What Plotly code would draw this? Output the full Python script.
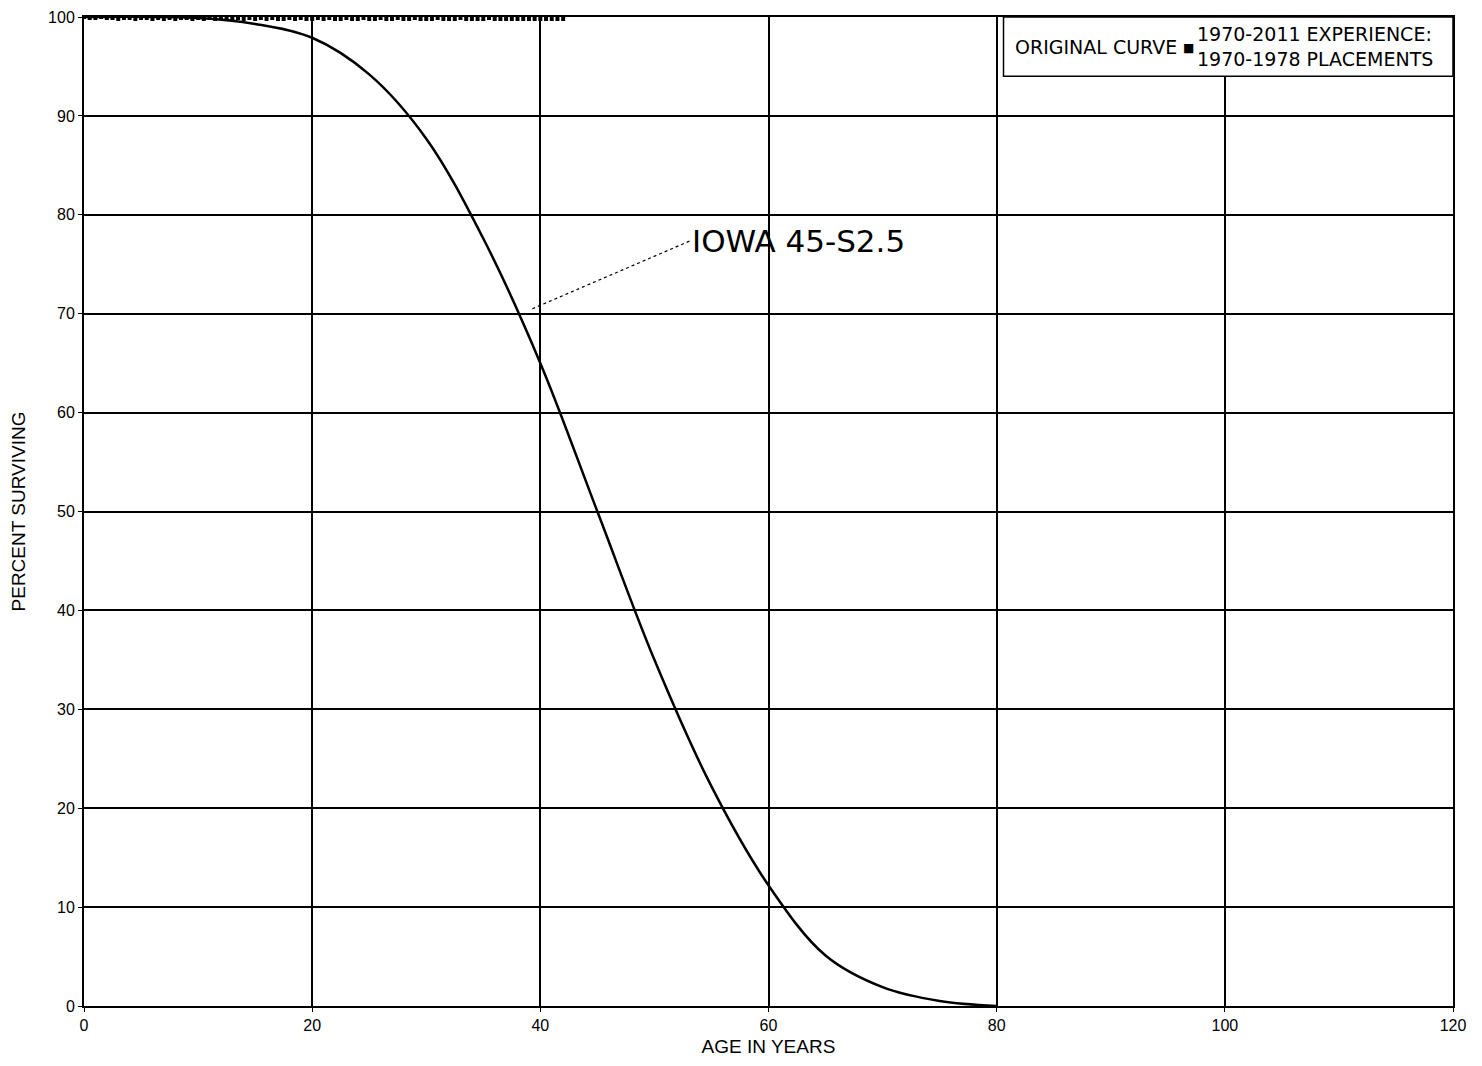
import plotly.graph_objects as go

# Iowa 45-S2.5 original curve (age in years, percent surviving)
curve_age = [0, 10, 15, 20, 25, 30, 35, 40, 45, 50, 55, 60, 65, 70, 75, 80]
curve_pct = [100, 99.9, 99.3, 97.9, 94.2, 87.7, 77.6, 65.0, 50.0, 35.0, 22.2, 12.2, 5.1, 1.9, 0.5, 0.0]

# 1970-2011 experience: 1970-1978 placements (observed)
exp_age = [i * 0.5 for i in range(0, 85)]
exp_pct = [100.0, 99.9, 99.9, 100.0, 99.9, 99.9, 99.8, 99.9, 99.9, 99.8, 99.9, 99.9, 99.8, 99.9,
           99.8, 99.9, 99.8, 99.9, 99.9, 99.8, 99.9, 99.8, 99.9, 99.8, 99.9, 99.9, 99.8, 99.9,
           99.8, 99.9, 99.8, 99.9, 99.8, 99.9, 99.8, 99.8, 99.9, 99.8, 99.9, 99.8, 99.8, 99.9,
           99.8, 99.9, 99.8, 99.8, 99.9, 99.8, 99.8, 99.9, 99.8, 99.8, 99.9, 99.8, 99.8, 99.9,
           99.8, 99.8, 99.9, 99.8, 99.8, 99.8, 99.9, 99.8, 99.8, 99.8, 99.9, 99.8, 99.8, 99.8,
           99.8, 99.9, 99.8, 99.8, 99.8, 99.8, 99.8, 99.8, 99.8, 99.8, 99.8, 99.8, 99.8, 99.8, 99.8]

x_ticks = [0, 20, 40, 60, 80, 100, 120]
y_ticks = [0, 10, 20, 30, 40, 50, 60, 70, 80, 90, 100]

fig = go.Figure()
fig.add_trace(go.Scatter(x=curve_age, y=curve_pct, mode="lines",
                         line=dict(color="black", width=2.5, shape="spline", smoothing=1.0),
                         name="ORIGINAL CURVE", showlegend=False))
fig.add_trace(go.Scatter(x=exp_age, y=exp_pct, mode="markers",
                         marker=dict(symbol="square", size=4, color="black"),
                         name="1970-2011 EXPERIENCE", showlegend=False, cliponaxis=False))

axis_common = dict(showgrid=True, gridcolor="black", gridwidth=2,
                   showline=True, linecolor="black", linewidth=2, mirror=True,
                   zeroline=False, ticks="outside", ticklen=4, tickcolor="black",
                   automargin=False, ticklabeloverflow="allow",
                   tickfont=dict(family="Liberation Sans, Arial", size=16, color="black"))

fig.update_layout(
    width=1482, height=1066,
    margin=dict(l=76, r=37, t=9, b=68),
    plot_bgcolor="white", paper_bgcolor="white",
    xaxis=dict(range=[0, 120], tickvals=x_ticks, **axis_common,
               title=dict(text="AGE IN YEARS", standoff=6,
                          font=dict(family="Liberation Sans, Arial", size=19, color="black"))),
    yaxis=dict(range=[0, 100], tickvals=y_ticks, **axis_common,
               title=dict(text="PERCENT SURVIVING", standoff=22,
                          font=dict(family="Liberation Sans, Arial", size=19, color="black"))),
)

# Curve label with dotted leader line
fig.add_annotation(x=53.1, y=77.4, text="IOWA 45-S2.5", showarrow=False, xanchor="left",
                   yanchor="middle", font=dict(family="DejaVu Sans", size=31, color="black"))
fig.add_shape(type="line", x0=39.3, y0=70.5, x1=53.2, y1=77.4,
              line=dict(color="black", width=1.2, dash="dot"))

# Legend box
fig.add_shape(type="rect", x0=80.6, y0=94.0, x1=120, y1=100,
              line=dict(color="black", width=1.5), fillcolor="white", layer="above")
fig.add_annotation(x=81.4, y=97.0, text="ORIGINAL CURVE", showarrow=False, xanchor="left",
                   yanchor="middle", font=dict(family="DejaVu Sans", size=19, color="black"))
fig.add_annotation(x=96.8, y=96.9, text="■", showarrow=False, xanchor="center",
                   yanchor="middle", font=dict(family="DejaVu Sans", size=12, color="black"))
fig.add_annotation(x=97.4, y=97.0, text="1970-2011 EXPERIENCE:<br>1970-1978 PLACEMENTS",
                   showarrow=False, xanchor="left", yanchor="middle", align="left",
                   font=dict(family="DejaVu Sans", size=19, color="black"))

fig.write_html("out.html")
